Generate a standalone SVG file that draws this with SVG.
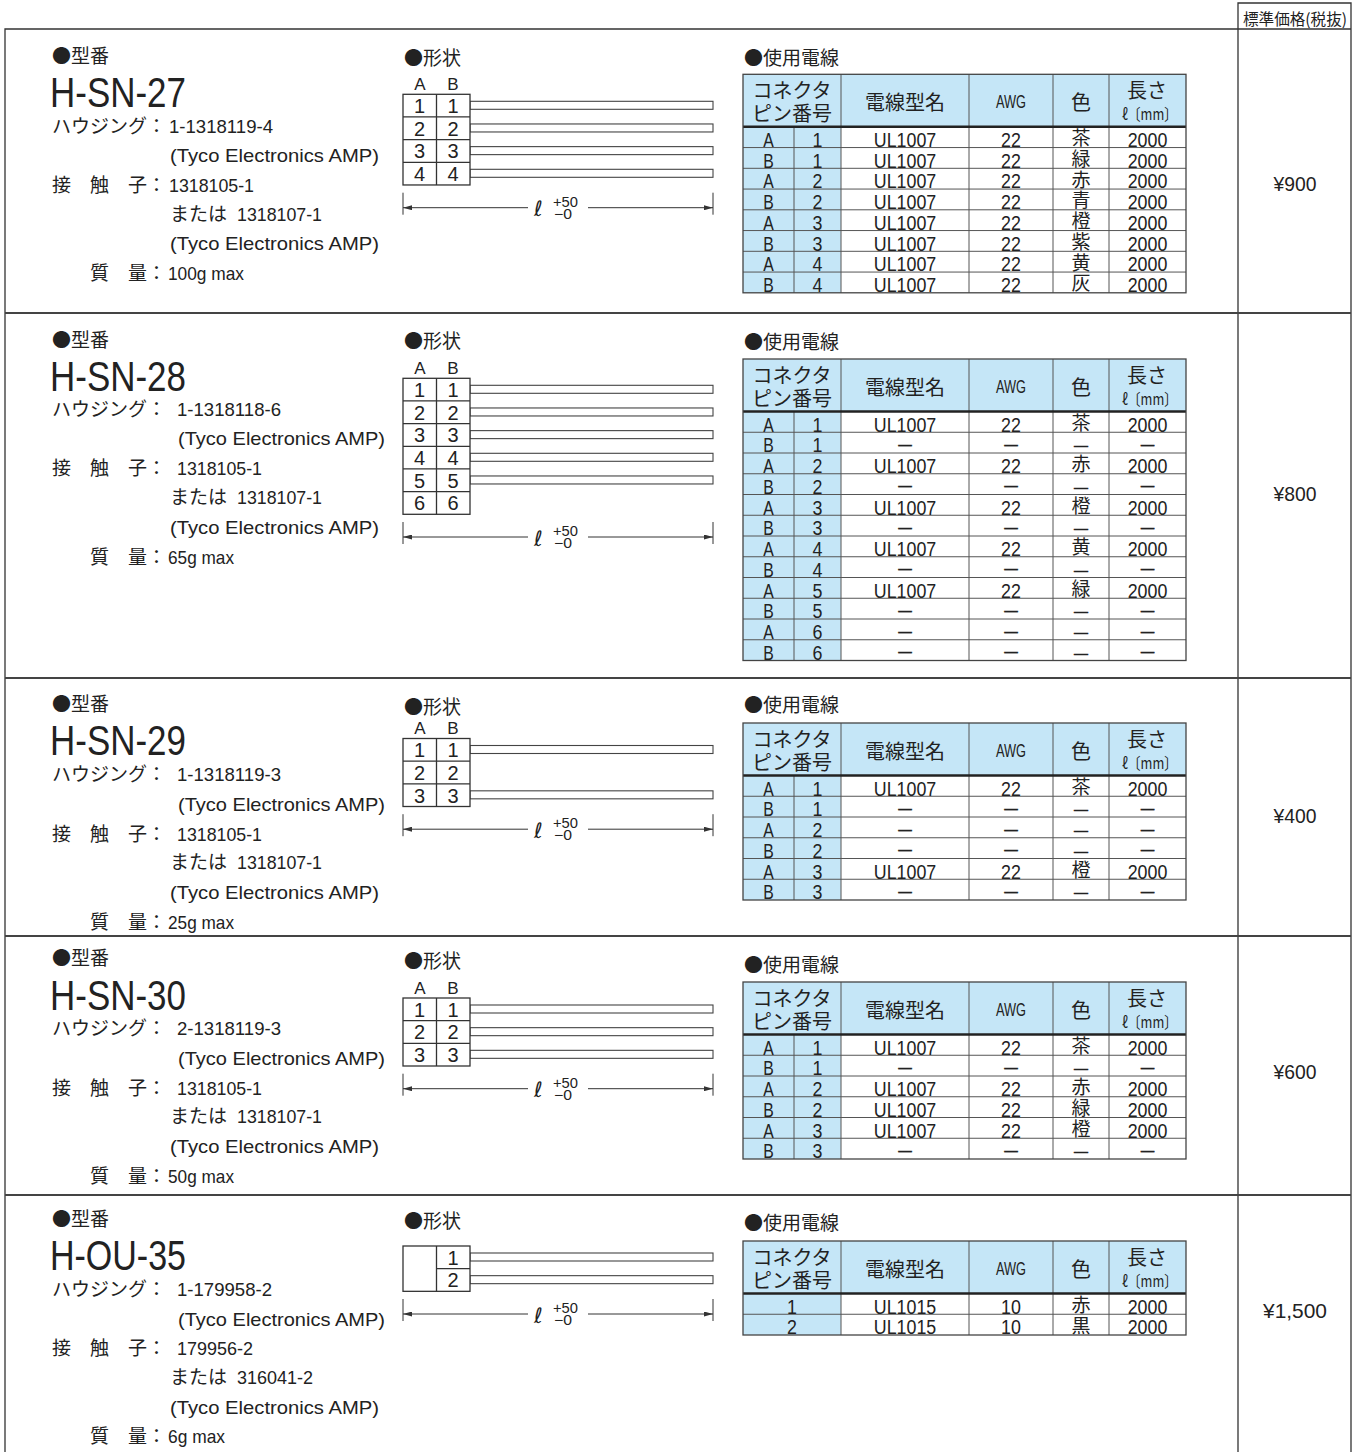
<svg xmlns="http://www.w3.org/2000/svg" width="1359" height="1452" viewBox="0 0 1359 1452">
<defs>
<style>
text{fill:#222}
.jp{font-family:"Noto Sans CJK JP","Noto Sans CJK SC",sans-serif}
.ln{font-family:"Liberation Sans","Noto Sans CJK JP",sans-serif}
.lab{font-size:19px}
.ttl{font-size:42px}
.b{font-size:19px}
.th{font-size:20px;text-anchor:middle}
.td{font-size:21px;text-anchor:middle}
.tc{font-size:19px;text-anchor:middle}
.d{font-family:"Liberation Sans",sans-serif;font-size:16px;stroke:#222;stroke-width:0.4}
.d14{font-size:14px}
.pr{font-size:21px;text-anchor:middle}
.cn{font-size:20px;text-anchor:middle}
.ab{font-size:17px;text-anchor:middle}
.ell{font-family:"DejaVu Sans",sans-serif;font-size:21px}
.tol{font-size:14px}
.frame{fill:none;stroke:#333;stroke-width:1.3}
.sep{fill:none;stroke:#444;stroke-width:2}
.blue{fill:#c5e6f7}
.white{fill:#fff}
.rl{fill:none;stroke:#555;stroke-width:1}
.hb{fill:none;stroke:#222;stroke-width:2.5}
.tb{fill:none;stroke:#444;stroke-width:1.3}
.box{fill:#fff;stroke:#333;stroke-width:1.3}
.bl{fill:none;stroke:#333;stroke-width:1.3}
.wire{fill:#fff;stroke:#444;stroke-width:1.1}
.dim{fill:none;stroke:#333;stroke-width:1}
</style>
<marker id="ah" markerWidth="9" markerHeight="5" refX="9" refY="2.5" orient="auto" markerUnits="userSpaceOnUse"><path d="M0,0L9,2.5L0,5z" fill="#333"/></marker>
</defs>
<rect width="1359" height="1452" fill="#fff"/>

<g id="frame">
<path class="frame" d="M5,1452V29H1351M1238,1452V3H1351V1452"/>
<path class="sep" d="M5,313H1351M5,678H1351M5,936H1351M5,1195H1351"/>
<text class="jp" x="1295" y="25" style="font-size:16px;text-anchor:middle" textLength="104" lengthAdjust="spacingAndGlyphs">標準価格(税抜)</text>
</g>

<g id="prices" class="ln pr">
<text x="1295" y="190.5" textLength="43" lengthAdjust="spacingAndGlyphs">¥900</text>
<text x="1295" y="500.5" textLength="43" lengthAdjust="spacingAndGlyphs">¥800</text>
<text x="1295" y="822.5" textLength="43" lengthAdjust="spacingAndGlyphs">¥400</text>
<text x="1295" y="1078.5" textLength="43" lengthAdjust="spacingAndGlyphs">¥600</text>
<text x="1295" y="1317.5" textLength="64" lengthAdjust="spacingAndGlyphs">¥1,500</text>
</g>

<!-- ===== Section 1 ===== -->
<g id="spec1">
<text class="jp lab" x="52" y="62.5">●型番</text>
<text class="ln ttl" x="50" y="106.5" textLength="136" lengthAdjust="spacingAndGlyphs">H-SN-27</text>
<text class="jp b" x="52" y="133">ハウジング：</text>
<text class="ln b" x="169" y="133" textLength="104" lengthAdjust="spacingAndGlyphs">1-1318119-4</text>
<text class="ln b" x="170" y="162" textLength="209" lengthAdjust="spacingAndGlyphs">(Tyco Electronics AMP)</text>
<text class="jp b" x="52" y="192">接　触　子：</text>
<text class="ln b" x="169" y="192" textLength="85" lengthAdjust="spacingAndGlyphs">1318105-1</text>
<text class="jp b" x="170" y="221">または</text>
<text class="ln b" x="237" y="221" textLength="85" lengthAdjust="spacingAndGlyphs">1318107-1</text>
<text class="ln b" x="170" y="250" textLength="209" lengthAdjust="spacingAndGlyphs">(Tyco Electronics AMP)</text>
<text class="jp b" x="90" y="280">質　量：</text>
<text class="ln b" x="168" y="280" textLength="76" lengthAdjust="spacingAndGlyphs">100g max</text>
</g>
<g id="shape1">
<text class="jp lab" x="404" y="65">●形状</text>
<g transform="translate(0,94.3)">
<text class="ln ab" x="420" y="-4.5">A</text><text class="ln ab" x="453" y="-4.5">B</text>
<rect class="wire" x="470" y="7" width="243" height="8"/>
<rect class="wire" x="470" y="29.67" width="243" height="8"/>
<rect class="wire" x="470" y="52.33" width="243" height="8"/>
<rect class="wire" x="470" y="75" width="243" height="8"/>
<rect class="box" x="403" y="0" width="67" height="90.67"/>
<path class="bl" d="M436.5,0V90.67M403,22.67H470M403,45.33H470M403,68H470"/>
<g class="ln cn">
<text x="419.5" y="18.7">1</text><text x="453" y="18.7">1</text>
<text x="419.5" y="41.4">2</text><text x="453" y="41.4">2</text>
<text x="419.5" y="64">3</text><text x="453" y="64">3</text>
<text x="419.5" y="86.7">4</text><text x="453" y="86.7">4</text>
</g>
</g>
</g>
<g id="dim1" transform="translate(0,207.7)">
<path class="dim" d="M403,-15V7M713,-15V7"/>
<path class="dim" d="M528,0H403" marker-end="url(#ah)"/>
<path class="dim" d="M588,0H713" marker-end="url(#ah)"/>
<text class="ell" x="534" y="8.5">ℓ</text>
<text class="ln tol" x="553" y="-1" textLength="25" lengthAdjust="spacingAndGlyphs">+50</text>
<text class="ln tol" x="554" y="11" textLength="18" lengthAdjust="spacingAndGlyphs">−0</text>
</g>
<g id="wires1">
<text class="jp lab" x="744" y="65">●使用電線</text>
<g transform="translate(0,74.3)">
<rect class="blue" x="743" y="0" width="443" height="52.5"/>
<rect class="white" x="841" y="52.5" width="345" height="166"/>
<rect class="blue" x="743" y="52.5" width="98" height="166"/>
<path class="rl" d="M743,73.25H1186M743,94H1186M743,114.75H1186M743,135.5H1186M743,156.25H1186M743,177H1186M743,197.75H1186M794,52.5V218.5M841,0V218.5M969,0V218.5M1053,0V218.5M1109,0V218.5"/>
<path class="hb" d="M743,52.5H1186"/>
<rect class="tb" x="743" y="0" width="443" height="218.5"/>
<text class="jp th" x="792" y="23.5">コネクタ</text>
<text class="jp th" x="792" y="47">ピン番号</text>
<text class="jp th" x="905" y="35.5">電線型名</text>
<text class="ln th" x="1011" y="34" style="font-size:18px" textLength="30" lengthAdjust="spacingAndGlyphs">AWG</text>
<text class="jp th" x="1081" y="35.5">色</text>
<text class="jp th" x="1147" y="23.5">長さ</text>
<text class="jp th" x="1149.5" y="46" style="font-size:16px" textLength="55" lengthAdjust="spacingAndGlyphs">ℓ〔mm〕</text>
<g class="ln td" transform="translate(768.5,0) scale(0.75,1)">
<text y="72.55">A</text><text y="93.3">B</text><text y="114.05">A</text><text y="134.8">B</text><text y="155.55">A</text><text y="176.3">B</text><text y="197.05">A</text><text y="217.8">B</text>
</g>
<g class="ln td" transform="translate(817.5,0) scale(0.85,1)">
<text y="72.55">1</text><text y="93.3">1</text><text y="114.05">2</text><text y="134.8">2</text><text y="155.55">3</text><text y="176.3">3</text><text y="197.05">4</text><text y="217.8">4</text>
</g>
<g class="ln td" transform="translate(905,0) scale(0.85,1)">
<text y="72.55">UL1007</text><text y="93.3">UL1007</text><text y="114.05">UL1007</text><text y="134.8">UL1007</text><text y="155.55">UL1007</text><text y="176.3">UL1007</text><text y="197.05">UL1007</text><text y="217.8">UL1007</text>
</g>
<g class="ln td" transform="translate(1011,0) scale(0.85,1)">
<text y="72.55">22</text><text y="93.3">22</text><text y="114.05">22</text><text y="134.8">22</text><text y="155.55">22</text><text y="176.3">22</text><text y="197.05">22</text><text y="217.8">22</text>
</g>
<g class="jp tc" transform="translate(1081,0)">
<text y="70.95">茶</text><text y="91.7">緑</text><text y="112.45">赤</text><text y="133.2">青</text><text y="153.95">橙</text><text y="174.7">紫</text><text y="195.45">黄</text><text y="216.2">灰</text>
</g>
<g class="ln td" transform="translate(1147.5,0) scale(0.85,1)">
<text y="72.55">2000</text><text y="93.3">2000</text><text y="114.05">2000</text><text y="134.8">2000</text><text y="155.55">2000</text><text y="176.3">2000</text><text y="197.05">2000</text><text y="217.8">2000</text>
</g>
</g>
</g>

<!-- ===== Section 2 ===== -->
<g id="spec2">
<text class="jp lab" x="52" y="346.5">●型番</text>
<text class="ln ttl" x="50" y="391" textLength="136" lengthAdjust="spacingAndGlyphs">H-SN-28</text>
<text class="jp b" x="52" y="416">ハウジング：</text>
<text class="ln b" x="177" y="416" textLength="104" lengthAdjust="spacingAndGlyphs">1-1318118-6</text>
<text class="ln b" x="178" y="445" textLength="207" lengthAdjust="spacingAndGlyphs">(Tyco Electronics AMP)</text>
<text class="jp b" x="52" y="475">接　触　子：</text>
<text class="ln b" x="177" y="475" textLength="85" lengthAdjust="spacingAndGlyphs">1318105-1</text>
<text class="jp b" x="170" y="504">または</text>
<text class="ln b" x="237" y="504" textLength="85" lengthAdjust="spacingAndGlyphs">1318107-1</text>
<text class="ln b" x="170" y="534" textLength="209" lengthAdjust="spacingAndGlyphs">(Tyco Electronics AMP)</text>
<text class="jp b" x="90" y="564">質　量：</text>
<text class="ln b" x="168" y="564" textLength="66" lengthAdjust="spacingAndGlyphs">65g max</text>
</g>
<g id="shape2">
<text class="jp lab" x="404" y="348">●形状</text>
<g transform="translate(0,378.3)">
<text class="ln ab" x="420" y="-4.5">A</text><text class="ln ab" x="453" y="-4.5">B</text>
<rect class="wire" x="470" y="7" width="243" height="8"/>
<rect class="wire" x="470" y="29.67" width="243" height="8"/>
<rect class="wire" x="470" y="52.33" width="243" height="8"/>
<rect class="wire" x="470" y="75" width="243" height="8"/>
<rect class="wire" x="470" y="97.67" width="243" height="8"/>
<rect class="box" x="403" y="0" width="67" height="136"/>
<path class="bl" d="M436.5,0V136M403,22.67H470M403,45.33H470M403,68H470M403,90.67H470M403,113.33H470"/>
<g class="ln cn">
<text x="419.5" y="18.7">1</text><text x="453" y="18.7">1</text>
<text x="419.5" y="41.4">2</text><text x="453" y="41.4">2</text>
<text x="419.5" y="64">3</text><text x="453" y="64">3</text>
<text x="419.5" y="86.7">4</text><text x="453" y="86.7">4</text>
<text x="419.5" y="109.4">5</text><text x="453" y="109.4">5</text>
<text x="419.5" y="132">6</text><text x="453" y="132">6</text>
</g>
</g>
</g>
<g id="dim2" transform="translate(0,537)">
<path class="dim" d="M403,-15V7M713,-15V7"/>
<path class="dim" d="M528,0H403" marker-end="url(#ah)"/>
<path class="dim" d="M588,0H713" marker-end="url(#ah)"/>
<text class="ell" x="534" y="8.5">ℓ</text>
<text class="ln tol" x="553" y="-1" textLength="25" lengthAdjust="spacingAndGlyphs">+50</text>
<text class="ln tol" x="554" y="11" textLength="18" lengthAdjust="spacingAndGlyphs">−0</text>
</g>
<g id="wires2">
<text class="jp lab" x="744" y="349">●使用電線</text>
<g transform="translate(0,359)">
<rect class="blue" x="743" y="0" width="443" height="52.5"/>
<rect class="white" x="841" y="52.5" width="345" height="249"/>
<rect class="blue" x="743" y="52.5" width="98" height="249"/>
<path class="rl" d="M743,73.25H1186M743,94H1186M743,114.75H1186M743,135.5H1186M743,156.25H1186M743,177H1186M743,197.75H1186M743,218.5H1186M743,239.25H1186M743,260H1186M743,280.75H1186M794,52.5V301.5M841,0V301.5M969,0V301.5M1053,0V301.5M1109,0V301.5"/>
<path class="hb" d="M743,52.5H1186"/>
<rect class="tb" x="743" y="0" width="443" height="301.5"/>
<text class="jp th" x="792" y="23.5">コネクタ</text>
<text class="jp th" x="792" y="47">ピン番号</text>
<text class="jp th" x="905" y="35.5">電線型名</text>
<text class="ln th" x="1011" y="34" style="font-size:18px" textLength="30" lengthAdjust="spacingAndGlyphs">AWG</text>
<text class="jp th" x="1081" y="35.5">色</text>
<text class="jp th" x="1147" y="23.5">長さ</text>
<text class="jp th" x="1149.5" y="46" style="font-size:16px" textLength="55" lengthAdjust="spacingAndGlyphs">ℓ〔mm〕</text>
<g class="ln td" transform="translate(768.5,0) scale(0.75,1)">
<text y="72.55">A</text><text y="93.3">B</text><text y="114.05">A</text><text y="134.8">B</text><text y="155.55">A</text><text y="176.3">B</text><text y="197.05">A</text><text y="217.8">B</text><text y="238.55">A</text><text y="259.3">B</text><text y="280.05">A</text><text y="300.8">B</text>
</g>
<g class="ln td" transform="translate(817.5,0) scale(0.85,1)">
<text y="72.55">1</text><text y="93.3">1</text><text y="114.05">2</text><text y="134.8">2</text><text y="155.55">3</text><text y="176.3">3</text><text y="197.05">4</text><text y="217.8">4</text><text y="238.55">5</text><text y="259.3">5</text><text y="280.05">6</text><text y="300.8">6</text>
</g>
<g class="ln td" transform="translate(905,0) scale(0.85,1)">
<text y="72.55">UL1007</text><text class="d" y="91">—</text><text y="114.05">UL1007</text><text class="d" y="132.5">—</text><text y="155.55">UL1007</text><text class="d" y="174">—</text><text y="197.05">UL1007</text><text class="d" y="215.5">—</text><text y="238.55">UL1007</text><text class="d" y="257">—</text><text class="d" y="277.75">—</text><text class="d" y="298.5">—</text>
</g>
<g class="ln td" transform="translate(1011,0) scale(0.85,1)">
<text y="72.55">22</text><text class="d" y="91">—</text><text y="114.05">22</text><text class="d" y="132.5">—</text><text y="155.55">22</text><text class="d" y="174">—</text><text y="197.05">22</text><text class="d" y="215.5">—</text><text y="238.55">22</text><text class="d" y="257">—</text><text class="d" y="277.75">—</text><text class="d" y="298.5">—</text>
</g>
<g class="jp tc" transform="translate(1081,0)">
<text y="70.95">茶</text><text class="d d14" y="91">—</text><text y="112.45">赤</text><text class="d d14" y="132.5">—</text><text y="153.95">橙</text><text class="d d14" y="174">—</text><text y="195.45">黄</text><text class="d d14" y="215.5">—</text><text y="236.95">緑</text><text class="d d14" y="257">—</text><text class="d d14" y="277.75">—</text><text class="d d14" y="298.5">—</text>
</g>
<g class="ln td" transform="translate(1147.5,0) scale(0.85,1)">
<text y="72.55">2000</text><text class="d" y="91">—</text><text y="114.05">2000</text><text class="d" y="132.5">—</text><text y="155.55">2000</text><text class="d" y="174">—</text><text y="197.05">2000</text><text class="d" y="215.5">—</text><text y="238.55">2000</text><text class="d" y="257">—</text><text class="d" y="277.75">—</text><text class="d" y="298.5">—</text>
</g>
</g>
</g>

<!-- ===== Section 3 ===== -->
<g id="spec3">
<text class="jp lab" x="52" y="710.5">●型番</text>
<text class="ln ttl" x="50" y="755" textLength="136" lengthAdjust="spacingAndGlyphs">H-SN-29</text>
<text class="jp b" x="52" y="781">ハウジング：</text>
<text class="ln b" x="177" y="781" textLength="104" lengthAdjust="spacingAndGlyphs">1-1318119-3</text>
<text class="ln b" x="178" y="811" textLength="207" lengthAdjust="spacingAndGlyphs">(Tyco Electronics AMP)</text>
<text class="jp b" x="52" y="841">接　触　子：</text>
<text class="ln b" x="177" y="841" textLength="85" lengthAdjust="spacingAndGlyphs">1318105-1</text>
<text class="jp b" x="170" y="869">または</text>
<text class="ln b" x="237" y="869" textLength="85" lengthAdjust="spacingAndGlyphs">1318107-1</text>
<text class="ln b" x="170" y="899" textLength="209" lengthAdjust="spacingAndGlyphs">(Tyco Electronics AMP)</text>
<text class="jp b" x="90" y="929">質　量：</text>
<text class="ln b" x="168" y="929" textLength="66" lengthAdjust="spacingAndGlyphs">25g max</text>
</g>
<g id="shape3">
<text class="jp lab" x="404" y="714">●形状</text>
<g transform="translate(0,738.5)">
<text class="ln ab" x="420" y="-4.5">A</text><text class="ln ab" x="453" y="-4.5">B</text>
<rect class="wire" x="470" y="7" width="243" height="8"/>
<rect class="wire" x="470" y="52.33" width="243" height="8"/>
<rect class="box" x="403" y="0" width="67" height="68"/>
<path class="bl" d="M436.5,0V68M403,22.67H470M403,45.33H470"/>
<g class="ln cn">
<text x="419.5" y="18.7">1</text><text x="453" y="18.7">1</text>
<text x="419.5" y="41.4">2</text><text x="453" y="41.4">2</text>
<text x="419.5" y="64">3</text><text x="453" y="64">3</text>
</g>
</g>
</g>
<g id="dim3" transform="translate(0,829.2)">
<path class="dim" d="M403,-15V7M713,-15V7"/>
<path class="dim" d="M528,0H403" marker-end="url(#ah)"/>
<path class="dim" d="M588,0H713" marker-end="url(#ah)"/>
<text class="ell" x="534" y="8.5">ℓ</text>
<text class="ln tol" x="553" y="-1" textLength="25" lengthAdjust="spacingAndGlyphs">+50</text>
<text class="ln tol" x="554" y="11" textLength="18" lengthAdjust="spacingAndGlyphs">−0</text>
</g>
<g id="wires3">
<text class="jp lab" x="744" y="712">●使用電線</text>
<g transform="translate(0,723)">
<rect class="blue" x="743" y="0" width="443" height="52.5"/>
<rect class="white" x="841" y="52.5" width="345" height="124.5"/>
<rect class="blue" x="743" y="52.5" width="98" height="124.5"/>
<path class="rl" d="M743,73.25H1186M743,94H1186M743,114.75H1186M743,135.5H1186M743,156.25H1186M794,52.5V177M841,0V177M969,0V177M1053,0V177M1109,0V177"/>
<path class="hb" d="M743,52.5H1186"/>
<rect class="tb" x="743" y="0" width="443" height="177"/>
<text class="jp th" x="792" y="23.5">コネクタ</text>
<text class="jp th" x="792" y="47">ピン番号</text>
<text class="jp th" x="905" y="35.5">電線型名</text>
<text class="ln th" x="1011" y="34" style="font-size:18px" textLength="30" lengthAdjust="spacingAndGlyphs">AWG</text>
<text class="jp th" x="1081" y="35.5">色</text>
<text class="jp th" x="1147" y="23.5">長さ</text>
<text class="jp th" x="1149.5" y="46" style="font-size:16px" textLength="55" lengthAdjust="spacingAndGlyphs">ℓ〔mm〕</text>
<g class="ln td" transform="translate(768.5,0) scale(0.75,1)">
<text y="72.55">A</text><text y="93.3">B</text><text y="114.05">A</text><text y="134.8">B</text><text y="155.55">A</text><text y="176.3">B</text>
</g>
<g class="ln td" transform="translate(817.5,0) scale(0.85,1)">
<text y="72.55">1</text><text y="93.3">1</text><text y="114.05">2</text><text y="134.8">2</text><text y="155.55">3</text><text y="176.3">3</text>
</g>
<g class="ln td" transform="translate(905,0) scale(0.85,1)">
<text y="72.55">UL1007</text><text class="d" y="91">—</text><text class="d" y="111.75">—</text><text class="d" y="132.5">—</text><text y="155.55">UL1007</text><text class="d" y="174">—</text>
</g>
<g class="ln td" transform="translate(1011,0) scale(0.85,1)">
<text y="72.55">22</text><text class="d" y="91">—</text><text class="d" y="111.75">—</text><text class="d" y="132.5">—</text><text y="155.55">22</text><text class="d" y="174">—</text>
</g>
<g class="jp tc" transform="translate(1081,0)">
<text y="70.95">茶</text><text class="d d14" y="91">—</text><text class="d d14" y="111.75">—</text><text class="d d14" y="132.5">—</text><text y="153.95">橙</text><text class="d d14" y="174">—</text>
</g>
<g class="ln td" transform="translate(1147.5,0) scale(0.85,1)">
<text y="72.55">2000</text><text class="d" y="91">—</text><text class="d" y="111.75">—</text><text class="d" y="132.5">—</text><text y="155.55">2000</text><text class="d" y="174">—</text>
</g>
</g>
</g>

<!-- ===== Section 4 ===== -->
<g id="spec4">
<text class="jp lab" x="52" y="964.5">●型番</text>
<text class="ln ttl" x="50" y="1010" textLength="136" lengthAdjust="spacingAndGlyphs">H-SN-30</text>
<text class="jp b" x="52" y="1035">ハウジング：</text>
<text class="ln b" x="177" y="1035" textLength="104" lengthAdjust="spacingAndGlyphs">2-1318119-3</text>
<text class="ln b" x="178" y="1065" textLength="207" lengthAdjust="spacingAndGlyphs">(Tyco Electronics AMP)</text>
<text class="jp b" x="52" y="1095">接　触　子：</text>
<text class="ln b" x="177" y="1095" textLength="85" lengthAdjust="spacingAndGlyphs">1318105-1</text>
<text class="jp b" x="170" y="1123">または</text>
<text class="ln b" x="237" y="1123" textLength="85" lengthAdjust="spacingAndGlyphs">1318107-1</text>
<text class="ln b" x="170" y="1153" textLength="209" lengthAdjust="spacingAndGlyphs">(Tyco Electronics AMP)</text>
<text class="jp b" x="90" y="1183">質　量：</text>
<text class="ln b" x="168" y="1183" textLength="66" lengthAdjust="spacingAndGlyphs">50g max</text>
</g>
<g id="shape4">
<text class="jp lab" x="404" y="968">●形状</text>
<g transform="translate(0,998)">
<text class="ln ab" x="420" y="-4.5">A</text><text class="ln ab" x="453" y="-4.5">B</text>
<rect class="wire" x="470" y="7" width="243" height="8"/>
<rect class="wire" x="470" y="29.67" width="243" height="8"/>
<rect class="wire" x="470" y="52.33" width="243" height="8"/>
<rect class="box" x="403" y="0" width="67" height="68"/>
<path class="bl" d="M436.5,0V68M403,22.67H470M403,45.33H470"/>
<g class="ln cn">
<text x="419.5" y="18.7">1</text><text x="453" y="18.7">1</text>
<text x="419.5" y="41.4">2</text><text x="453" y="41.4">2</text>
<text x="419.5" y="64">3</text><text x="453" y="64">3</text>
</g>
</g>
</g>
<g id="dim4" transform="translate(0,1088.7)">
<path class="dim" d="M403,-15V7M713,-15V7"/>
<path class="dim" d="M528,0H403" marker-end="url(#ah)"/>
<path class="dim" d="M588,0H713" marker-end="url(#ah)"/>
<text class="ell" x="534" y="8.5">ℓ</text>
<text class="ln tol" x="553" y="-1" textLength="25" lengthAdjust="spacingAndGlyphs">+50</text>
<text class="ln tol" x="554" y="11" textLength="18" lengthAdjust="spacingAndGlyphs">−0</text>
</g>
<g id="wires4">
<text class="jp lab" x="744" y="972">●使用電線</text>
<g transform="translate(0,982)">
<rect class="blue" x="743" y="0" width="443" height="52.5"/>
<rect class="white" x="841" y="52.5" width="345" height="124.5"/>
<rect class="blue" x="743" y="52.5" width="98" height="124.5"/>
<path class="rl" d="M743,73.25H1186M743,94H1186M743,114.75H1186M743,135.5H1186M743,156.25H1186M794,52.5V177M841,0V177M969,0V177M1053,0V177M1109,0V177"/>
<path class="hb" d="M743,52.5H1186"/>
<rect class="tb" x="743" y="0" width="443" height="177"/>
<text class="jp th" x="792" y="23.5">コネクタ</text>
<text class="jp th" x="792" y="47">ピン番号</text>
<text class="jp th" x="905" y="35.5">電線型名</text>
<text class="ln th" x="1011" y="34" style="font-size:18px" textLength="30" lengthAdjust="spacingAndGlyphs">AWG</text>
<text class="jp th" x="1081" y="35.5">色</text>
<text class="jp th" x="1147" y="23.5">長さ</text>
<text class="jp th" x="1149.5" y="46" style="font-size:16px" textLength="55" lengthAdjust="spacingAndGlyphs">ℓ〔mm〕</text>
<g class="ln td" transform="translate(768.5,0) scale(0.75,1)">
<text y="72.55">A</text><text y="93.3">B</text><text y="114.05">A</text><text y="134.8">B</text><text y="155.55">A</text><text y="176.3">B</text>
</g>
<g class="ln td" transform="translate(817.5,0) scale(0.85,1)">
<text y="72.55">1</text><text y="93.3">1</text><text y="114.05">2</text><text y="134.8">2</text><text y="155.55">3</text><text y="176.3">3</text>
</g>
<g class="ln td" transform="translate(905,0) scale(0.85,1)">
<text y="72.55">UL1007</text><text class="d" y="91">—</text><text y="114.05">UL1007</text><text y="134.8">UL1007</text><text y="155.55">UL1007</text><text class="d" y="174">—</text>
</g>
<g class="ln td" transform="translate(1011,0) scale(0.85,1)">
<text y="72.55">22</text><text class="d" y="91">—</text><text y="114.05">22</text><text y="134.8">22</text><text y="155.55">22</text><text class="d" y="174">—</text>
</g>
<g class="jp tc" transform="translate(1081,0)">
<text y="70.95">茶</text><text class="d d14" y="91">—</text><text y="112.45">赤</text><text y="133.2">緑</text><text y="153.95">橙</text><text class="d d14" y="174">—</text>
</g>
<g class="ln td" transform="translate(1147.5,0) scale(0.85,1)">
<text y="72.55">2000</text><text class="d" y="91">—</text><text y="114.05">2000</text><text y="134.8">2000</text><text y="155.55">2000</text><text class="d" y="174">—</text>
</g>
</g>
</g>

<!-- ===== Section 5 ===== -->
<g id="spec5">
<text class="jp lab" x="52" y="1225.5">●型番</text>
<text class="ln ttl" x="50" y="1270" textLength="136" lengthAdjust="spacingAndGlyphs">H-OU-35</text>
<text class="jp b" x="52" y="1296">ハウジング：</text>
<text class="ln b" x="177" y="1296" textLength="95" lengthAdjust="spacingAndGlyphs">1-179958-2</text>
<text class="ln b" x="178" y="1326" textLength="207" lengthAdjust="spacingAndGlyphs">(Tyco Electronics AMP)</text>
<text class="jp b" x="52" y="1355">接　触　子：</text>
<text class="ln b" x="177" y="1355" textLength="76" lengthAdjust="spacingAndGlyphs">179956-2</text>
<text class="jp b" x="170" y="1384">または</text>
<text class="ln b" x="237" y="1384" textLength="76" lengthAdjust="spacingAndGlyphs">316041-2</text>
<text class="ln b" x="170" y="1414" textLength="209" lengthAdjust="spacingAndGlyphs">(Tyco Electronics AMP)</text>
<text class="jp b" x="90" y="1443">質　量：</text>
<text class="ln b" x="168" y="1443" textLength="57" lengthAdjust="spacingAndGlyphs">6g max</text>
</g>
<g id="shape5">
<text class="jp lab" x="404" y="1228">●形状</text>
<g transform="translate(0,1246)">
<rect class="wire" x="470" y="7" width="243" height="8"/>
<rect class="wire" x="470" y="29.67" width="243" height="8"/>
<rect class="box" x="403" y="0" width="67" height="45.33"/>
<path class="bl" d="M436.5,0V45.33M436.5,22.67H470"/>
<g class="ln cn">
<text x="453" y="18.7">1</text>
<text x="453" y="41.4">2</text>
</g>
</g>
</g>
<g id="dim5" transform="translate(0,1314)">
<path class="dim" d="M403,-15V7M713,-15V7"/>
<path class="dim" d="M528,0H403" marker-end="url(#ah)"/>
<path class="dim" d="M588,0H713" marker-end="url(#ah)"/>
<text class="ell" x="534" y="8.5">ℓ</text>
<text class="ln tol" x="553" y="-1" textLength="25" lengthAdjust="spacingAndGlyphs">+50</text>
<text class="ln tol" x="554" y="11" textLength="18" lengthAdjust="spacingAndGlyphs">−0</text>
</g>
<g id="wires5">
<text class="jp lab" x="744" y="1230">●使用電線</text>
<g transform="translate(0,1241)">
<rect class="blue" x="743" y="0" width="443" height="52.5"/>
<rect class="white" x="841" y="52.5" width="345" height="41.5"/>
<rect class="blue" x="743" y="52.5" width="98" height="41.5"/>
<path class="rl" d="M743,73.25H1186M841,0V94M969,0V94M1053,0V94M1109,0V94"/>
<path class="hb" d="M743,52.5H1186"/>
<rect class="tb" x="743" y="0" width="443" height="94"/>
<text class="jp th" x="792" y="23.5">コネクタ</text>
<text class="jp th" x="792" y="47">ピン番号</text>
<text class="jp th" x="905" y="35.5">電線型名</text>
<text class="ln th" x="1011" y="34" style="font-size:18px" textLength="30" lengthAdjust="spacingAndGlyphs">AWG</text>
<text class="jp th" x="1081" y="35.5">色</text>
<text class="jp th" x="1147" y="23.5">長さ</text>
<text class="jp th" x="1149.5" y="46" style="font-size:16px" textLength="55" lengthAdjust="spacingAndGlyphs">ℓ〔mm〕</text>
<g class="ln td" transform="translate(792,0) scale(0.85,1)">
<text y="72.55">1</text><text y="93.3">2</text>
</g>
<g class="ln td" transform="translate(905,0) scale(0.85,1)">
<text y="72.55">UL1015</text><text y="93.3">UL1015</text>
</g>
<g class="ln td" transform="translate(1011,0) scale(0.85,1)">
<text y="72.55">10</text><text y="93.3">10</text>
</g>
<g class="jp tc" transform="translate(1081,0)">
<text y="70.95">赤</text><text y="91.7">黒</text>
</g>
<g class="ln td" transform="translate(1147.5,0) scale(0.85,1)">
<text y="72.55">2000</text><text y="93.3">2000</text>
</g>
</g>
</g>
</svg>
